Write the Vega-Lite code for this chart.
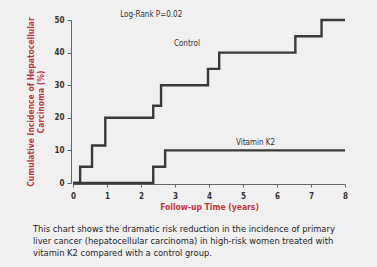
{
  "$schema": "https://vega.github.io/schema/vega-lite/v6.json",
  "width": 272,
  "height": 163,
  "autosize": "none",
  "padding": {"left": 73, "top": 20, "right": 32, "bottom": 84},
  "background": "#f1f0f1",
  "config": {"view": {"stroke": null}, "font": "DejaVu Sans Condensed, Liberation Sans, sans-serif"},
  "title": {
    "text": ["This chart shows the dramatic risk reduction in the incidence of primary", "liver cancer (hepatocellular carcinoma) in high-risk women treated with", "vitamin K2 compared with a control group."],
    "orient": "bottom",
    "anchor": "start",
    "frame": "group",
    "dx": -40,
    "offset": 14,
    "fontSize": 9.3,
    "fontWeight": "normal",
    "color": "#1e1e1e",
    "lineHeight": 12,
    "font": "DejaVu Sans Condensed, Liberation Sans, sans-serif"
  },
  "datasets": {
    "curves": [
      {"year": 0, "pct": 0, "group": "Control"},
      {"year": 0.21, "pct": 5, "group": "Control"},
      {"year": 0.56, "pct": 11.5, "group": "Control"},
      {"year": 0.95, "pct": 20, "group": "Control"},
      {"year": 2.36, "pct": 23.7, "group": "Control"},
      {"year": 2.59, "pct": 30, "group": "Control"},
      {"year": 3.97, "pct": 35, "group": "Control"},
      {"year": 4.3, "pct": 40, "group": "Control"},
      {"year": 6.54, "pct": 45, "group": "Control"},
      {"year": 7.31, "pct": 50, "group": "Control"},
      {"year": 8, "pct": 50, "group": "Control"},
      {"year": 0, "pct": 0, "group": "Vitamin K2"},
      {"year": 2.36, "pct": 5, "group": "Vitamin K2"},
      {"year": 2.71, "pct": 10, "group": "Vitamin K2"},
      {"year": 8, "pct": 10, "group": "Vitamin K2"}
    ],
    "labels": [
      {"year": 2.3, "pct": 51.5, "label": "Log-Rank P=0.02"},
      {"year": 3.35, "pct": 42.5, "label": "Control"},
      {"year": 5.37, "pct": 12.3, "label": "Vitamin K2"}
    ]
  },
  "encoding": {
    "x": {
      "field": "year", "type": "quantitative",
      "scale": {"domain": [0, 8], "nice": false},
      "axis": {
        "values": [0, 1, 2, 3, 4, 5, 6, 7, 8],
        "tickCount": 9,
        "grid": false,
        "offset": 1,
        "labelOverlap": false,
        "labelFlush": false,
        "domainColor": "#666",
        "tickColor": "#666",
        "tickSize": 3,
        "labelFont": "DejaVu Sans Condensed, Liberation Sans, sans-serif",
        "labelFontSize": 8,
        "labelFontWeight": "bold",
        "labelColor": "#333",
        "labelPadding": 5,
        "title": "Follow-up Time (years)",
        "titleColor": "#c4363e",
        "titleFont": "DejaVu Sans Condensed, Liberation Sans, sans-serif",
        "titleFontSize": 8.5,
        "titleFontWeight": "bold",
        "titlePadding": 2
      }
    },
    "y": {
      "field": "pct", "type": "quantitative",
      "scale": {"domain": [0, 50], "nice": false},
      "axis": {
        "values": [0, 10, 20, 30, 40, 50],
        "tickCount": 6,
        "grid": false,
        "offset": 2,
        "labelOverlap": false,
        "labelFlush": false,
        "domainColor": "#666",
        "tickColor": "#666",
        "tickSize": 4,
        "labelFont": "DejaVu Sans Condensed, Liberation Sans, sans-serif",
        "labelFontSize": 8,
        "labelFontWeight": "bold",
        "labelColor": "#333",
        "labelPadding": 3,
        "title": ["Cumulative Incidence of Hepatocellular", "Carcinoma (%)"],
        "titleColor": "#c4363e",
        "titleFont": "DejaVu Sans Condensed, Liberation Sans, sans-serif",
        "titleFontSize": 8.5,
        "titleFontWeight": "bold",
        "titleLineHeight": 10,
        "titlePadding": 8
      }
    }
  },
  "layer": [
    {
      "data": {"name": "curves"},
      "mark": {"type": "line", "interpolate": "step-after", "color": "#3a3a3a", "strokeWidth": 2.4, "clip": false},
      "encoding": {
        "detail": {"field": "group", "type": "nominal"}
      }
    },
    {
      "data": {"name": "labels"},
      "mark": {"type": "text", "fontSize": 8, "color": "#333", "font": "DejaVu Sans Condensed, Liberation Sans, sans-serif", "clip": false},
      "encoding": {
        "text": {"field": "label", "type": "nominal"}
      }
    }
  ]
}
